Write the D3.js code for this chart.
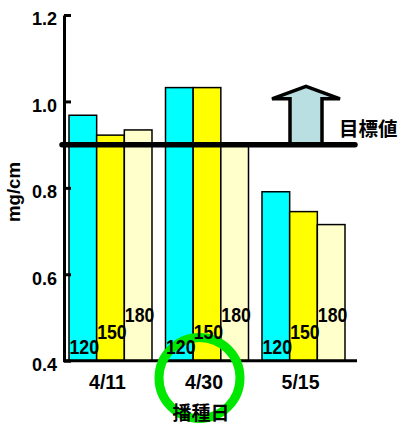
<!DOCTYPE html>
<html><head><meta charset="utf-8">
<script src="https://cdn.jsdelivr.net/npm/d3@7"></script>
<style>
body{margin:0;background:#fff;}
text{font-family:"Liberation Sans",Arial,sans-serif;}
.cjk{font-family:"Noto Sans CJK JP","Noto Sans CJK SC",sans-serif;font-weight:bold;}
</style>
</head><body>
<svg id="c" width="403" height="428"></svg>
<script>
const categories = ["4/11", "4/30", "5/15"];
const seriesNames = ["120", "150", "180"];
const values120 = [0.968, 1.032, 0.791];
const values150 = [0.922, 1.032, 0.745];
const values180 = [0.934, 0.900, 0.715];
const yTicks = [0.4, 0.6, 0.8, 1.0, 1.2];
const targetValue = 0.9;
const colors = ["#00ffff", "#ffff00", "#ffffcc"];
const yLabel = "mg/cm";
const xTitle = "播種日";
const targetLabel = "目標値";

const series = [values120, values150, values180];
const svg = d3.select("#c");

const y = d3.scaleLinear().domain([0.4, 1.2]).range([360.7, 15]);
const x = d3.scaleBand().domain(categories).range([69, 345]).paddingInner(0.14).paddingOuter(0);
const xs = d3.scaleBand().domain(seriesNames).range([0, x.bandwidth()]);
const axisX0 = 63, axisX1 = 357;

// bars
const g = svg.append("g");
categories.forEach((c, ci) => {
  seriesNames.forEach((s, si) => {
    const v = series[si][ci];
    g.append("rect")
      .attr("x", x(c) + xs(s))
      .attr("y", y(v))
      .attr("width", xs.bandwidth())
      .attr("height", y(0.4) - y(v))
      .attr("fill", colors[si])
      .attr("stroke", "#000")
      .attr("stroke-width", 1.5);
  });
});

// y axis
const yAxis = svg.append("g").attr("transform", `translate(${axisX0 + 1},0)`)
  .call(d3.axisLeft(y).tickValues(yTicks).tickFormat(d3.format(".1f")).tickSizeInner(-7).tickSizeOuter(0).tickPadding(7));
yAxis.select(".domain").attr("stroke-width", 3).attr("stroke", "#000");
yAxis.selectAll(".tick line").attr("stroke-width", 3).attr("stroke", "#000");
yAxis.selectAll(".tick text").attr("font-size", 18).attr("fill", "#000").attr("font-weight", "bold")
  .attr("font-family", "Liberation Sans, Arial, sans-serif").attr("dy", "0.55em");

// x axis line
svg.append("line").attr("x1", axisX0).attr("x2", axisX1).attr("y1", y(0.4)).attr("y2", y(0.4))
  .attr("stroke", "#000").attr("stroke-width", 3);

// target line
svg.append("line").attr("x1", axisX0 - 1).attr("x2", axisX1 - 2).attr("y1", y(targetValue)).attr("y2", y(targetValue))
  .attr("stroke", "#000").attr("stroke-width", 5.5).attr("stroke-linecap", "round");

// arrow
const ac = 306, tipY = y(1.035), headY = y(1.006), baseY = y(targetValue) - 1;
const arrow = [[ac, tipY], [ac + 34, headY], [ac + 16, headY], [ac + 16, baseY], [ac - 16, baseY], [ac - 16, headY], [ac - 34, headY]];
svg.append("path").attr("d", d3.line()(arrow) + "Z")
  .attr("fill", "#b9dfe3").attr("stroke", "#000").attr("stroke-width", 3.5).attr("stroke-linejoin", "miter");

svg.append("text").attr("class", "cjk").attr("x", 339).attr("y", 136).attr("font-size", 19.5).text(targetLabel);

// green circle
svg.append("circle").attr("cx", 199.5).attr("cy", 378).attr("r", 40.5)
  .attr("fill", "none").attr("stroke", "#00e800").attr("stroke-width", 9);

// bar labels
const labelOffsets = [6.5, 22, 39];
categories.forEach((c, ci) => {
  seriesNames.forEach((s, si) => {
    svg.append("text").attr("x", x(c) + xs(s) + 0.5).attr("y", y(0.4) - labelOffsets[si])
      .attr("font-size", 21).attr("fill", "#000").attr("font-weight", "bold")
      .attr("textLength", 29.5).attr("lengthAdjust", "spacingAndGlyphs").text(s);
  });
});

// x labels
const xAxis = svg.append("g").attr("transform", `translate(-3,${y(0.4)})`)
  .call(d3.axisBottom(x).tickSize(0).tickPadding(14.3));
xAxis.select(".domain").remove();
xAxis.selectAll(".tick text").attr("font-size", 19.5).attr("fill", "#000").attr("font-weight", "bold")
  .attr("font-family", "Liberation Sans, Arial, sans-serif").attr("dy", "0.71em");

// titles
svg.append("text").attr("class", "cjk").attr("x", 201).attr("y", 420).attr("text-anchor", "middle")
  .attr("font-size", 19).text(xTitle);
svg.append("text").attr("transform", "translate(20,192) rotate(-90)").attr("text-anchor", "middle")
  .attr("font-size", 18).attr("font-weight", "bold")
  .attr("textLength", 60).attr("lengthAdjust", "spacingAndGlyphs").text(yLabel);
</script>
</body></html>
